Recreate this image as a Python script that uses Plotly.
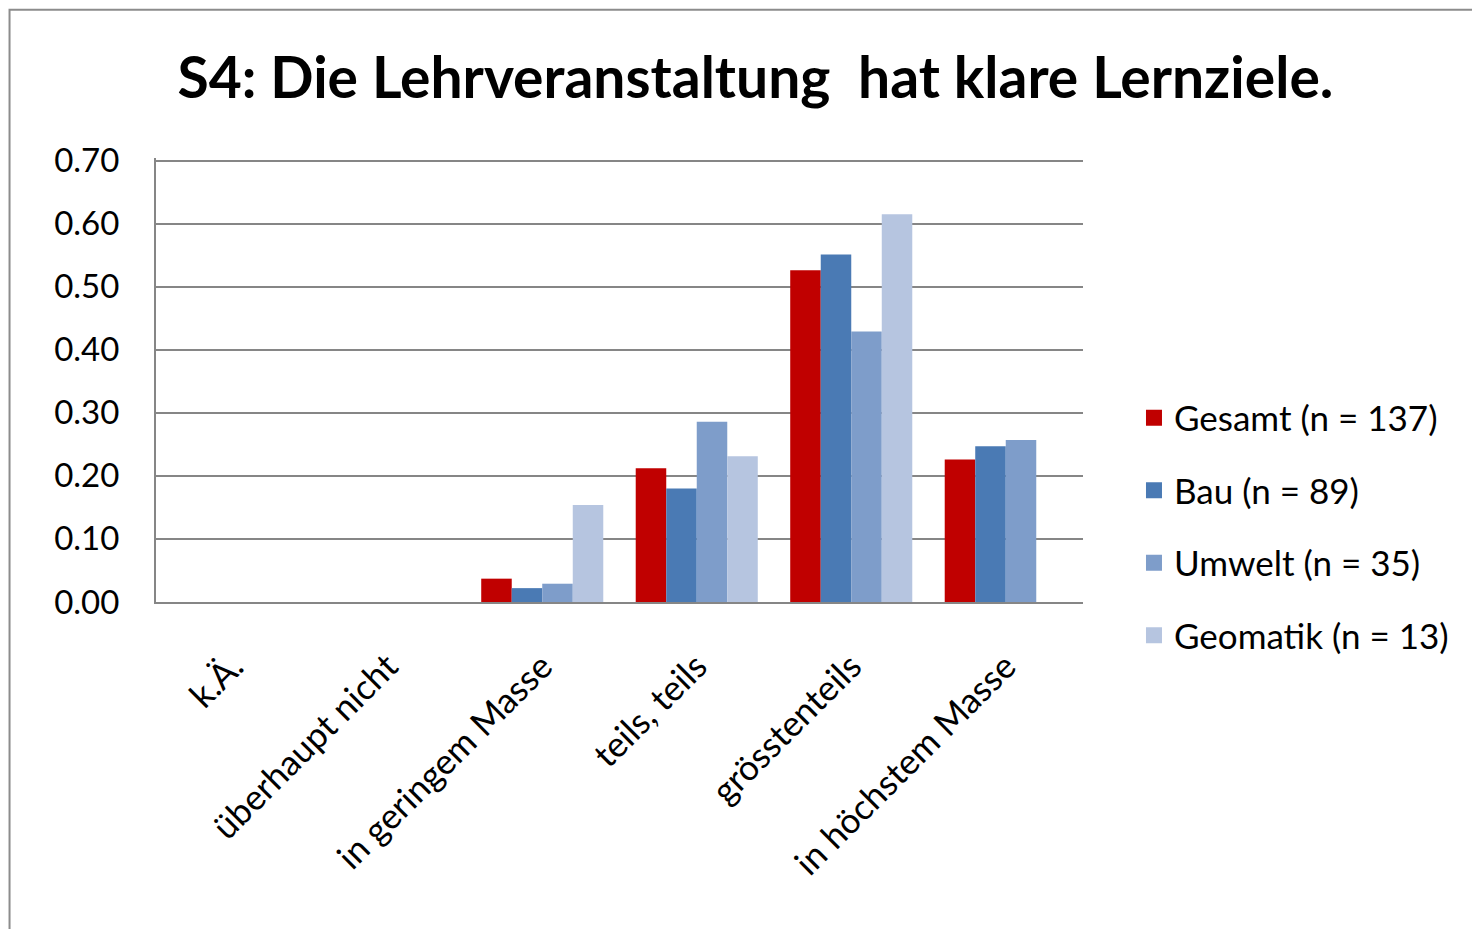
import plotly.graph_objects as go

categories = ['k.Ä.', 'überhaupt nicht', 'in geringem Masse', 'teils, teils', 'grösstenteils', 'in höchstem Masse']

gesamt = [0, 0, 0.037, 0.212, 0.526, 0.226]
bau = [0, 0, 0.022, 0.180, 0.551, 0.247]
umwelt = [0, 0, 0.029, 0.286, 0.429, 0.257]
geomatik = [0, 0, 0.154, 0.231, 0.615, 0]

series = [
    ('Gesamt (n = 137)', gesamt, '#C00000'),
    ('Bau (n = 89)', bau, '#4A7AB4'),
    ('Umwelt (n = 35)', umwelt, '#7E9DCA'),
    ('Geomatik (n = 13)', geomatik, '#B6C5E0'),
]

font_family = 'Lato, "Open Sans", sans-serif'

fig = go.Figure()
for name, values, color in series:
    fig.add_trace(go.Bar(
        x=categories,
        y=values,
        name=name,
        showlegend=False,
        marker=dict(color=color, line=dict(width=0)),
    ))
    # legend entry with a bigger square swatch
    fig.add_trace(go.Scatter(
        x=[None],
        y=[None],
        mode='markers',
        name=name,
        legendgroup=name,
        marker=dict(symbol='square', size=20, color=color),
    ))

fig.update_layout(
    width=1480,
    height=929,
    paper_bgcolor='white',
    plot_bgcolor='white',
    margin=dict(l=148, r=405, t=150, b=335),
    barmode='group',
    bargap=0.21,
    bargroupgap=0,
    font=dict(family=font_family, color='black'),
    title=dict(
        text='<b>S4: Die Lehrveranstaltung  hat klare Lernziele.</b>',
        x=0.505,
        xanchor='center',
        y=0.925,
        yanchor='middle',
        font=dict(size=57, family=font_family, color='black'),
    ),
    legend=dict(
        x=1.055,
        xanchor='left',
        y=0.17,
        yanchor='middle',
        font=dict(size=35),
        tracegroupgap=24,
        itemwidth=30,
        bgcolor='rgba(0,0,0,0)',
    ),
    xaxis=dict(
        showgrid=False,
        showline=True,
        linecolor='#868686',
        linewidth=2,
        tickangle=-45,
        ticks='',
        ticklabelstandoff=28,
        tickfont=dict(size=35),
    ),
    yaxis=dict(
        range=[0, 0.704],
        dtick=0.1,
        tickformat='.2f',
        showgrid=True,
        gridcolor='#868686',
        gridwidth=2,
        showline=True,
        linecolor='#868686',
        linewidth=2,
        zeroline=False,
        ticks='',
        ticklabelstandoff=28,
        tickfont=dict(size=33),
    ),
    # outer chart frame
    shapes=[dict(
        type='rect',
        xref='paper', yref='paper',
        x0=-0.158, x1=1.5, y0=-1.0, y1=1.334,
        line=dict(color='#8C8C8C', width=2),
        fillcolor='rgba(0,0,0,0)',
        layer='below',
    )],
)

fig.write_html('out.html', config={'displayModeBar': False})
